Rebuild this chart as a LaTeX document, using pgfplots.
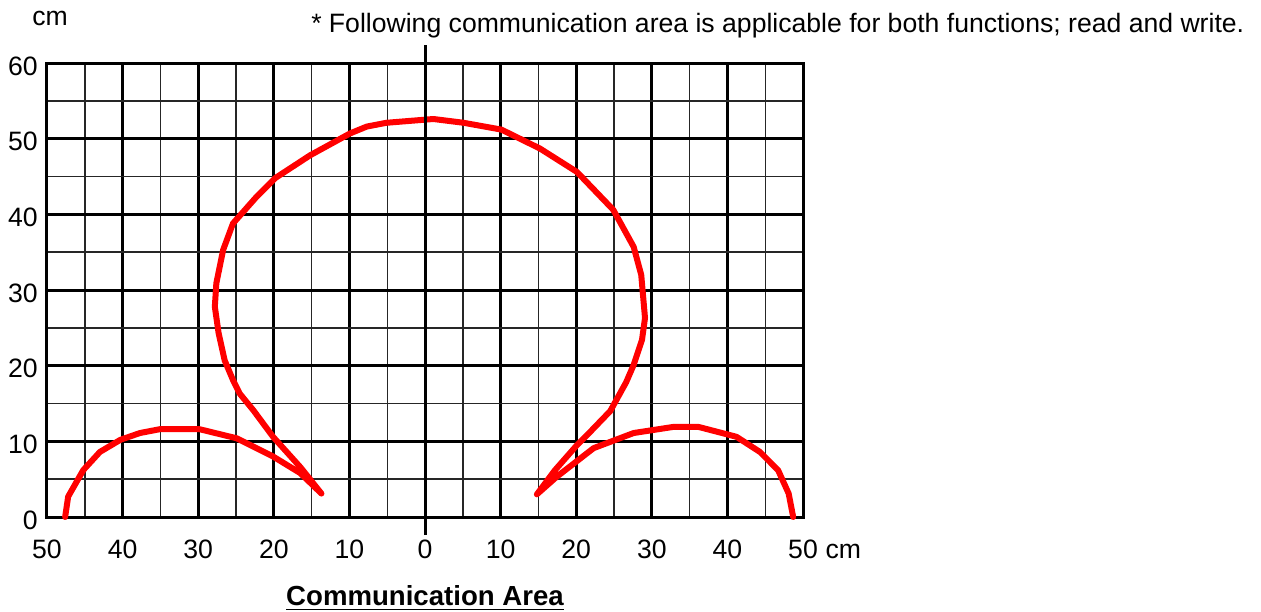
\documentclass[border=0pt]{standalone}
\usepackage{fontspec}
\setmainfont{Liberation Sans}
\usepackage{pgfplots}
\pgfplotsset{compat=1.18}
\begin{document}
\fontsize{13.3}{16}\selectfont
\begin{tikzpicture}
\path[use as bounding box] (0,0) rectangle (630.5pt,305.5pt);
\begin{axis}[
 at={(23.5pt,47pt)}, anchor=south west,
 scale only axis, width=378pt, height=227pt,
 xmin=-50, xmax=50, ymin=0, ymax=60,
 xtick={-50,-40,...,50}, xticklabels={50,40,30,20,10,0,10,20,30,40,50},
 ytick={0,10,...,60},
 minor xtick={-45,-35,...,45}, minor ytick={5,15,...,55},
 grid=both,
 major grid style={line width=1.5pt, black},
 minor grid style={line width=0.7pt, black!85},
 axis line style={line width=1.5pt},
 major tick length=0pt, minor tick length=0pt,
 tick style={draw=none},
 /pgf/number format/assume math mode=true,
 xticklabel style={anchor=center, yshift=-16pt},
 yticklabel style={yshift=-1.5pt},
 clip=false,
]
\addplot[red, line width=3pt, line join=round, line cap=round] coordinates {
(-47.6,0) (-47.2,2.7) (-45.2,6.2) (-43.0,8.6) (-40.3,10.2) (-37.7,11.1) (-35.1,11.6)
(-29.8,11.6) (-24.9,10.4) (-20.1,8.0) (-16.5,5.8) (-13.7,3.1)
(-16.5,6.6) (-20.1,10.6) (-22.7,14.1) (-24.5,16.3) (-25.4,18.1) (-26.5,20.7)
(-27.3,24.3) (-27.8,27.8) (-27.6,30.9) (-26.7,35.3) (-25.4,38.8) (-22.3,42.3)
(-19.8,44.8) (-15.2,47.8) (-9.9,50.7) (-7.7,51.6) (-5.1,52.1) (1.1,52.6)
(5.1,52.1) (10.1,51.2) (15.2,48.7) (20.1,45.6) (24.9,40.6) (27.6,35.7)
(28.6,32.0) (29.1,26.3) (28.7,23.4) (27.6,20.1) (26.6,17.8) (24.5,14.0)
(21.8,11.2) (20.1,9.5) (17.2,6.2) (14.8,3.0)
(17.4,5.3) (22.3,9.1) (27.6,11.1) (32.8,11.9) (36.2,11.9) (41.2,10.6)
(44.3,8.6) (46.7,6.2) (48.1,3.1) (48.7,0)
};
\draw[line width=1.5pt] (axis cs:0,-2.4) -- (axis cs:0,62.4);
\node[anchor=base west, xshift=6.7pt, yshift=-20.75pt] at (axis cs:50,0) {cm};
\end{axis}
\node at (25pt,296.5pt) {cm};
\node[anchor=west] at (151pt,292.5pt) {* Following communication area is applicable for both functions; read and write.};
\node at (212.5pt,6.5pt) {\fontsize{13.8}{16}\selectfont\bfseries\underline{Communication Area}};
\end{tikzpicture}
\end{document}
